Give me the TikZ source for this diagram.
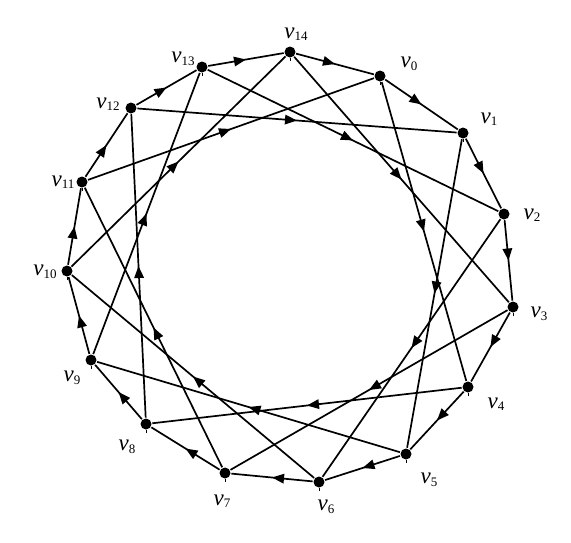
\documentclass[tikz,border=0pt]{standalone}
\usepackage{fontspec}
\setmainfont{Liberation Serif}
\usetikzlibrary{arrows.meta,decorations.markings}
\tikzset{
    mid arrow/.style={
        decoration={markings, mark=at position 0.5 with {\arrow{Triangle[length=12pt,width=9.5pt]}}},
        postaction={decorate}
    },
    vertex/.style={circle, fill=black, inner sep=0pt, minimum size=11pt},
    vlabel/.style={inner sep=0pt, font=\fontsize{23}{25}\selectfont}
}
\newcommand{\vname}[1]{\textit{v}\raisebox{-2.5pt}{\fontsize{13}{13}\selectfont #1}}

\begin{document}
\begin{tikzpicture}[x=1pt, y=-1pt, line width=1.7pt]
    %% Background
    \useasboundingbox (0,0) rectangle (571,542);

    %% Vertices
    \node[vertex] (v0) at (380,76) {};
    \node[vertex] (v1) at (463,133) {};
    \node[vertex] (v2) at (504,214) {};
    \node[vertex] (v3) at (513,307) {};
    \node[vertex] (v4) at (468,387) {};
    \node[vertex] (v5) at (406,454) {};
    \node[vertex] (v6) at (319,482) {};
    \node[vertex] (v7) at (225,473) {};
    \node[vertex] (v8) at (146,424) {};
    \node[vertex] (v9) at (91,360) {};
    \node[vertex] (v10) at (67,271) {};
    \node[vertex] (v11) at (82,182) {};
    \node[vertex] (v12) at (131,108) {};
    \node[vertex] (v13) at (202,67) {};
    \node[vertex] (v14) at (290,52) {};
    \draw[line width=1pt]
    (v0.south) -- ++(0,3) (v1.south) -- ++(0,3) (v2.south) -- ++(0,3)
    (v3.south) -- ++(0,3) (v4.south) -- ++(0,3) (v5.south) -- ++(0,3)
    (v6.south) -- ++(0,3) (v7.south) -- ++(0,3) (v8.south) -- ++(0,3)
    (v9.south) -- ++(0,3) (v10.south) -- ++(0,3) (v11.south) -- ++(0,3)
    (v12.south) -- ++(0,3) (v13.south) -- ++(0,3) (v14.south) -- ++(0,3)
    ;

    %% Labels
    \node[vlabel] (l0) at (409,64) {\vname{0}};
    \node[vlabel] (l1) at (489,119) {\vname{1}};
    \node[vlabel] (l2) at (532,215) {\vname{2}};
    \node[vlabel] (l3) at (539,314) {\vname{3}};
    \node[vlabel] (l4) at (496,404) {\vname{4}};
    \node[vlabel] (l5) at (429,480) {\vname{5}};
    \node[vlabel] (l6) at (326,507) {\vname{6}};
    \node[vlabel] (l7) at (222,501) {\vname{7}};
    \node[vlabel] (l8) at (127,447) {\vname{8}};
    \node[vlabel] (l9) at (72,378) {\vname{9}};
    \node[vlabel] (l10) at (45,272) {\vname{10}};
    \node[vlabel] (l11) at (63,182) {\vname{11}};
    \node[vlabel] (l12) at (108,104) {\vname{12}};
    \node[vlabel] (l13) at (183,59) {\vname{13}};
    \node[vlabel] (l14) at (296,34) {\vname{14}};

    %% Outer cycle
    \draw[mid arrow] (v0) -- (v1);
    \draw[mid arrow] (v1) -- (v2);
    \draw[mid arrow] (v2) -- (v3);
    \draw[mid arrow] (v3) -- (v4);
    \draw[mid arrow] (v4) -- (v5);
    \draw[mid arrow] (v5) -- (v6);
    \draw[mid arrow] (v6) -- (v7);
    \draw[mid arrow] (v7) -- (v8);
    \draw[mid arrow] (v8) -- (v9);
    \draw[mid arrow] (v9) -- (v10);
    \draw[mid arrow] (v10) -- (v11);
    \draw[mid arrow] (v11) -- (v12);
    \draw[mid arrow] (v12) -- (v13);
    \draw[mid arrow] (v13) -- (v14);
    \draw[mid arrow] (v14) -- (v0);

    %% Chords, four steps ahead
    \draw[mid arrow] (v0) -- (v4);
    \draw[mid arrow] (v1) -- (v5);
    \draw[mid arrow] (v2) -- (v6);
    \draw[mid arrow] (v3) -- (v7);
    \draw[mid arrow] (v4) -- (v8);
    \draw[mid arrow] (v5) -- (v9);
    \draw[mid arrow] (v6) -- (v10);
    \draw[mid arrow] (v7) -- (v11);
    \draw[mid arrow] (v8) -- (v12);
    \draw[mid arrow] (v9) -- (v13);
    \draw[mid arrow] (v10) -- (v14);
    \draw[mid arrow] (v11) -- (v0);
    \draw[mid arrow] (v12) -- (v1);
    \draw[mid arrow] (v13) -- (v2);
    \draw[mid arrow] (v14) -- (v3);

\end{tikzpicture}
\end{document}
